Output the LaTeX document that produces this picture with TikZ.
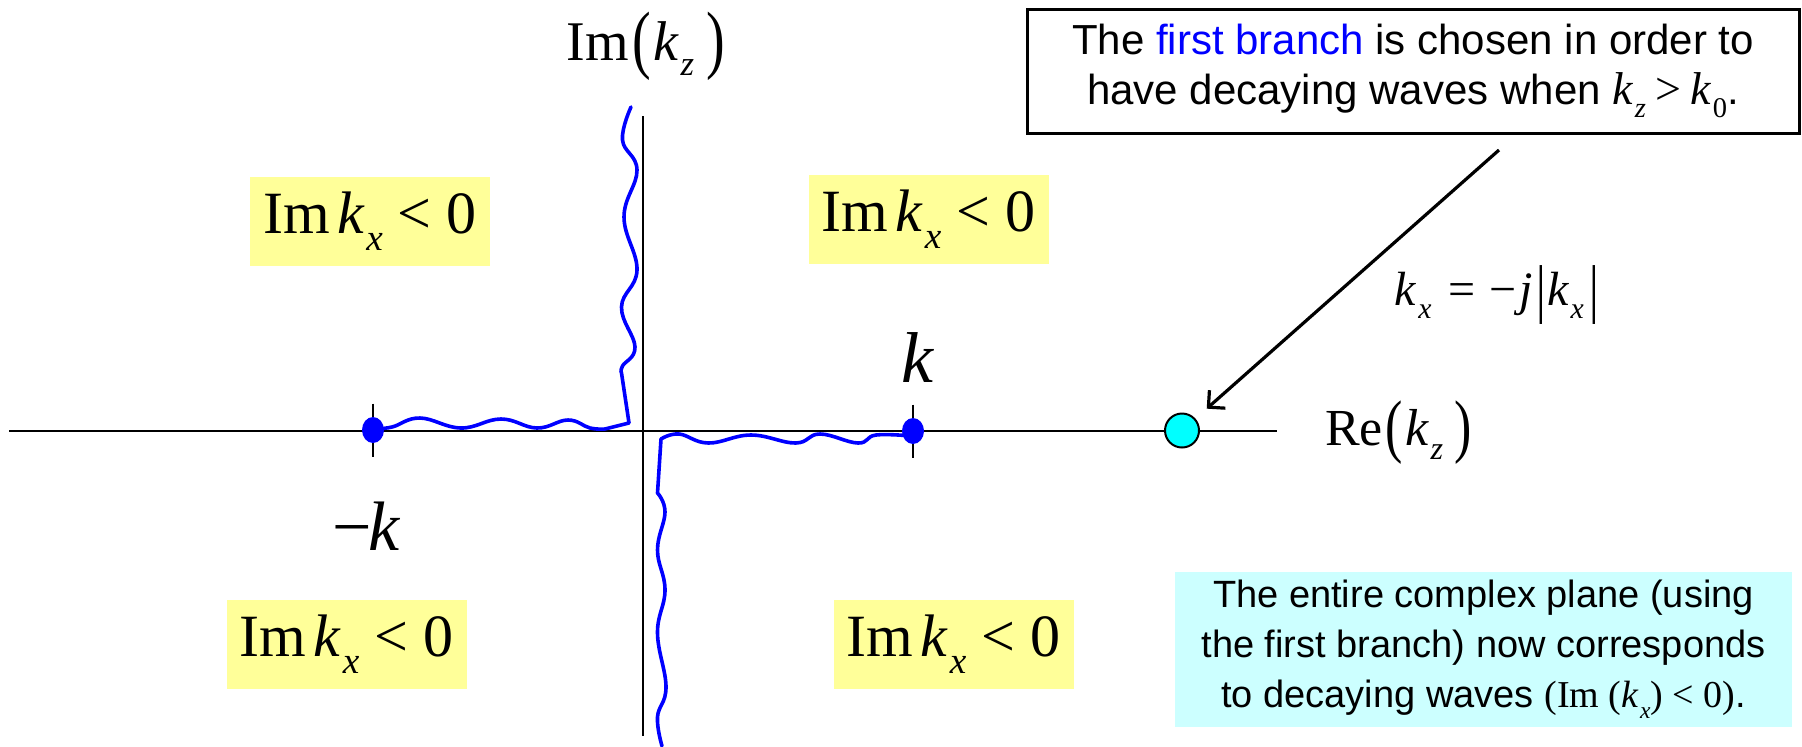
\documentclass[tikz,border=0pt]{standalone}
\usepackage{fontspec}
\usepackage{graphicx}
\setmainfont{Liberation Serif}
\newfontfamily\arialf{Liberation Sans}
\usetikzlibrary{arrows.meta,shapes.geometric}
\definecolor{ybox}{RGB}{255,255,153}
\definecolor{cbox}{RGB}{204,255,255}
\definecolor{cdot}{RGB}{0,255,255}
\definecolor{bl}{RGB}{0,0,255}
\newcommand{\sbs}[1]{\kern0.03em\raisebox{-0.28em}{\scalebox{0.62}{#1}}}
\newcommand{\kk}[1]{\textit{k}\sbs{\textit{#1}}}
\newcommand{\tallp}[1]{\raisebox{-0.08em}{\scalebox{1}[1.35]{#1}}}
\newcommand{\imk}{Im\kern0.12em\kk{x} < 0}
\newcommand{\vbar}{\raisebox{-0.12em}{\scalebox{1}[1.35]{|}}}
\begin{document}
\begin{tikzpicture}[x=0.5pt,y=-0.5pt,
  ybx/.style={fill=ybox, inner sep=0pt, minimum width=120pt, minimum height=44.5pt,
    font=\fontsize{30}{36}\selectfont},
  branch/.style={bl, line width=1.8pt, line join=round, line cap=round},
  bdot/.style={ellipse, fill=bl, inner sep=0pt, minimum width=11pt, minimum height=13pt},
  tickln/.style={line width=1.1pt},
  lbl/.style={anchor=base, inner sep=0pt},
]
\useasboundingbox (0,0) rectangle (1802,746);

% quadrant labels
\node[ybx] (ul) at (370,221) {\imk};
\node[ybx] (ur) at (928.5,219) {\imk};
\node[ybx] (ll) at (346.5,644.5) {\imk};
\node[ybx] (lr) at (953.5,644.5) {\imk};

% axes
\draw[line width=1.3pt] (9,431) -- (1277,431);
\draw[line width=1.1pt] (643,116) -- (643,736);

% branch points
\coordinate (mkc) at (373,430);
\coordinate (pkc) at (913,431);
\draw[tickln] ([yshift=13.25pt]mkc) -- ([yshift=-13.25pt]mkc);
\draw[tickln] ([yshift=13.25pt]pkc) -- ([yshift=-13.25pt]pkc);

% branch cuts
\draw[branch] plot[smooth, tension=0.7] coordinates {(373,429) (392,427) (420,418) (461,428) (501,419) (537,428) (568,420) (590,428) (605,429)}
  -- (629,423) -- (621.5,373)
  -- plot[smooth, tension=0.7] coordinates {(621.5,373) (622.5,366) (635,347) (621.5,307) (637,270) (624,217) (637,170) (622.5,140) (631,107)};
\draw[branch] plot[smooth, tension=0.7] coordinates {(912,436) (876,435) (858,443) (820,434) (795.5,443) (751,435) (708.5,443) (679,434) (661,439)}
  -- (657.5,493)
  -- plot[smooth, tension=0.7] coordinates {(657.5,493) (665,512) (657.5,550) (665,590) (657.5,633) (666,687) (657.5,717) (662,746)};

\node[bdot] (mk) at (mkc) {};
\node[bdot] (pk) at (pkc) {};

% labels
\node[lbl, font=\fontsize{28}{34}\selectfont] (imlab) at (646,60) {Im\kern0.06em\tallp{(}\kern0.04em\kk{z}\kern0.22em\tallp{)}};
\node[lbl, font=\fontsize{26}{32}\selectfont] (relab) at (1398.5,445) {Re\kern0.06em\tallp{(}\kern0.04em\kk{z}\kern0.22em\tallp{)}};
\node[lbl, font=\fontsize{36}{40}\selectfont] (klab) at (918,382) {\textit{k}};
\node[lbl, font=\fontsize{35}{40}\selectfont] (mklab) at (366.5,550) {−\kern-0.05em\textit{k}};
\node[lbl, font=\fontsize{24}{28}\selectfont] (kxlab) at (1497,305) {\kk{x}\kern0.35em=\kern0.3em−\kern0.05em\textit{j}\kern0.08em\vbar\kern0.02em\kk{x}\kern0.12em\vbar};

% zero-point circle
\node[circle, fill=cdot, draw=black, line width=1pt, minimum size=17pt, inner sep=0pt] (cz) at (1182,430.5) {};

% top box and arrow
\node[draw=black, line width=1.5pt, fill=white, minimum width=386pt, minimum height=62pt, inner sep=0pt,
  align=center, font=\arialf\fontsize{21}{25}\selectfont] (tbox) at (1413,71)
  {The \textcolor{blue}{first branch} is chosen in order to\\have decaying waves when {\rmfamily\fontsize{23}{25}\selectfont\kk{z}\kern0.2em>\kern0.2em\textit{k}\sbs{0}}.};
\coordinate (astart) at (1499,150);
\draw[line width=1.6pt, -{Straight Barb[length=6pt,width=12pt]}, shorten >=7.5pt] (astart) -- (cz);

% bottom note
\node[fill=cbox, minimum width=308.5pt, minimum height=77.5pt, inner sep=0pt,
  align=center, font=\arialf\fontsize{19}{25}\selectfont] (note) at (1483.5,649.5)
  {The entire complex plane (using\\the first branch) now corresponds\\to decaying waves {\rmfamily(Im (\kk{x}) < 0)}.};
\end{tikzpicture}
\end{document}
